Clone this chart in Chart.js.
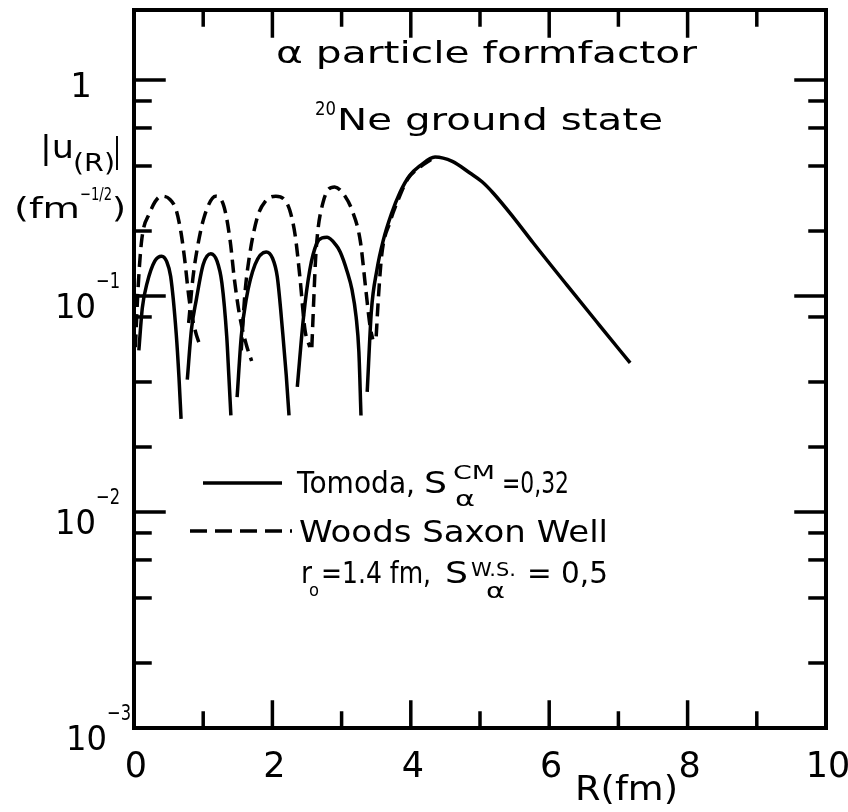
<!DOCTYPE html>
<html>
<head>
<meta charset="utf-8">
<script src="https://cdn.jsdelivr.net/npm/chart.js@4.4.1/dist/chart.umd.min.js"></script>
<style>
  html, body { margin: 0; padding: 0; background: #fff; }
</style>
</head>
<body>
<canvas id="formfactorChart" width="848" height="812"></canvas>
<script>
// Tomoda |u(R)| (solid), arches separated by null
const tomodaR = [
    0.07, 0.12, 0.19, 0.30, 0.40, 0.47, 0.53, 0.61, 0.65, 0.68, 0.72,
    0.77, 0.83, 0.90, 1.00, 1.11, 1.20, 1.27, 1.34, 1.37, 1.40, 1.45,
    1.49, 1.55, 1.62, 1.75, 1.91, 2.00, 2.07, 2.15, 2.20, 2.24, 2.30,
    2.36, 2.45, 2.54, 2.64, 2.72, 2.79, 2.92, 2.98, 3.08, 3.15, 3.21, 3.25, 3.28, 3.33,
    3.37, 3.43, 3.51, 3.60, 3.72, 3.84, 3.98, 4.13, 4.35, 4.60, 4.86, 5.03, 5.19, 5.48, 5.77, 6.26, 6.73, 7.17
];
const tomodaU = [
    0.056, 0.088, 0.115, 0.145, 0.153, 0.145, 0.123, 0.067, 0.042, 0.027, null,
    0.041, 0.070, 0.096, 0.140, 0.157, 0.145, 0.115, 0.065, 0.043, 0.028, null,
    0.034, 0.065, 0.096, 0.140, 0.160, 0.150, 0.123, 0.067, 0.043, 0.028, null,
    0.038, 0.080, 0.132, 0.175, 0.186, 0.187, 0.172, 0.160, 0.130, 0.107, 0.080, 0.055, 0.028, null,
    0.036, 0.085, 0.132, 0.180, 0.240, 0.300, 0.360, 0.400, 0.440, 0.420, 0.370, 0.338, 0.300, 0.232, 0.176, 0.112, 0.073, 0.049
];

// Woods Saxon well |u(R)| (dashed)
const woodsSaxonR = [
    0.02, 0.06, 0.11, 0.22, 0.40, 0.52, 0.61, 0.68, 0.73, 0.80, 0.88, 0.97, 0.98,
    0.79, 0.85, 0.91, 1.01, 1.18, 1.30, 1.39, 1.45, 1.53, 1.62, 1.70, 1.71,
    1.55, 1.60, 1.66, 1.78, 1.90, 2.05, 2.17, 2.25, 2.33, 2.40, 2.47, 2.54, 2.55,
    2.57, 2.60, 2.63, 2.73, 2.90, 3.05, 3.15, 3.27, 3.35, 3.41, 3.45, 3.46,
    3.50, 3.53, 3.58, 3.70, 3.82, 3.96, 4.13, 4.30
];
const woodsSaxonU = [
    0.058, 0.110, 0.180, 0.240, 0.290, 0.280, 0.250, 0.196, 0.150, 0.095, 0.070, 0.057, null,
    0.075, 0.120, 0.163, 0.230, 0.290, 0.260, 0.180, 0.120, 0.080, 0.060, 0.050, null,
    0.056, 0.100, 0.147, 0.230, 0.275, 0.290, 0.280, 0.250, 0.190, 0.120, 0.070, 0.058, null,
    0.058, 0.100, 0.160, 0.270, 0.320, 0.290, 0.250, 0.180, 0.107, 0.073, 0.063, null,
    0.065, 0.096, 0.155, 0.220, 0.280, 0.350, 0.395, 0.430
];

const xMajorTicks = [0, 2, 4, 6, 8, 10];
const xMinorTicks = [1, 3, 5, 7, 9];
const yMajorTicks = [1, 0.1, 0.01, 0.001];
const yMinorTicks = [0.8, 0.6, 0.4, 0.2, 0.08, 0.04, 0.02, 0.008, 0.006, 0.004, 0.002];
const yTickExponents = ['', '\u22121', '\u22122', '\u22123'];

const FONT = '"DejaVu Sans"';

function toPoints(rs, us) {
    return rs.map((r, i) => ({ x: r, y: us[i] }));
}

// text drawn at size, optionally squeezed/stretched to a given width
function txt(ctx, text, x, y, size, width, align) {
    ctx.save();
    ctx.font = size + 'px ' + FONT;
    ctx.textAlign = align || 'left';
    ctx.textBaseline = 'alphabetic';
    ctx.translate(x, y);
    if (width) ctx.scale(width / ctx.measureText(text).width, 1);
    ctx.fillText(text, 0, 0);
    ctx.restore();
}

function seg(ctx, x1, y1, x2, y2) {
    ctx.beginPath();
    ctx.moveTo(x1, y1);
    ctx.lineTo(x2, y2);
    ctx.stroke();
}

const framePlugin = {
    id: 'frame',
    afterDraw(chart) {
        const { ctx, chartArea: a, scales: { x, y } } = chart;
        ctx.save();
        ctx.strokeStyle = '#000';
        ctx.fillStyle = '#000';
        ctx.lineWidth = 4;
        ctx.lineCap = 'square';
        ctx.strokeRect(a.left, a.top, a.right - a.left, a.bottom - a.top);

        // inward ticks, all four sides
        ctx.lineWidth = 3.5;
        xMajorTicks.concat(xMinorTicks).forEach(v => {
            const px = x.getPixelForValue(v);
            const len = xMajorTicks.includes(v) ? 26 : 15;
            seg(ctx, px, a.bottom, px, a.bottom - len);
            seg(ctx, px, a.top, px, a.top + len);
        });
        yMajorTicks.concat(yMinorTicks).forEach(v => {
            const py = y.getPixelForValue(v);
            const len = yMajorTicks.includes(v) ? 30 : 16;
            seg(ctx, a.left, py, a.left + len, py);
            seg(ctx, a.right, py, a.right - len, py);
        });

        // x tick labels
        xMajorTicks.forEach(v => {
            txt(ctx, String(v), x.getPixelForValue(v) + 2, 777, 35, null, 'center');
        });
        txt(ctx, 'R(fm)', 575, 800, 34, 103);

        // y tick labels
        txt(ctx, '1', 92, 97, 34, null, 'right');
        yMajorTicks.slice(1).forEach((v, i) => {
            const py = y.getPixelForValue(v);
            const left = i === 2 ? 66 : 55;
            txt(ctx, '10', left, py + 22, 34, 41);
            txt(ctx, yTickExponents[i + 1], left + 41, py - 8, 22, 24);
        });

        // y axis title
        txt(ctx, '|u', 40, 158, 32, 34);
        txt(ctx, '(R)', 73, 171, 25, 42);
        txt(ctx, '|', 113, 162, 34, 8);
        txt(ctx, '(fm', 14, 218, 29, 66);
        txt(ctx, '\u22121/2', 80, 200, 18, 32);
        txt(ctx, ')', 112, 218, 29, 14);

        // title
        txt(ctx, '\u03b1 particle formfactor', 276, 63, 30, 421);
        txt(ctx, '20', 315, 115, 20, 21);
        txt(ctx, 'Ne ground state', 337, 130, 31, 326);

        // legend
        ctx.setLineDash([]);
        ctx.lineCap = 'butt';
        seg(ctx, 203, 483, 282, 483);
        txt(ctx, 'Tomoda,', 297, 493, 31, 118);
        txt(ctx, 'S', 424, 493, 31, 23);
        txt(ctx, 'CM', 453, 479, 20, 42);
        txt(ctx, '\u03b1', 455, 506, 22, 20);
        txt(ctx, '=0,32', 502, 493, 31, 67);

        ctx.setLineDash([17, 8]);
        seg(ctx, 190, 531, 292, 531);
        ctx.setLineDash([]);
        txt(ctx, 'Woods Saxon Well', 299, 542, 31, 309);

        txt(ctx, 'r', 301, 583, 31, 11);
        txt(ctx, 'o', 309, 596, 18, 10);
        txt(ctx, '=1.4 fm,', 321, 583, 31, 110);
        txt(ctx, 'S', 445, 583, 31, 23);
        txt(ctx, 'W.S.', 471, 576, 20, 45);
        txt(ctx, '\u03b1', 486, 598, 22, 19);
        txt(ctx, '= 0,5', 527, 583, 31, 81);
        ctx.restore();
    }
};

new Chart(document.getElementById('formfactorChart'), {
    type: 'line',
    data: {
        datasets: [{
            label: 'Tomoda',
            data: toPoints(tomodaR, tomodaU),
            borderColor: '#000',
            borderWidth: 3.5,
            pointRadius: 0,
            fill: false,
            spanGaps: false,
            cubicInterpolationMode: 'monotone'
        }, {
            label: 'Woods Saxon Well',
            data: toPoints(woodsSaxonR, woodsSaxonU),
            borderColor: '#000',
            borderWidth: 3.5,
            borderDash: [13, 7],
            pointRadius: 0,
            fill: false,
            spanGaps: false,
            cubicInterpolationMode: 'monotone'
        }]
    },
    options: {
        responsive: false,
        animation: false,
        devicePixelRatio: 1,
        layout: { padding: { left: 134, right: 22, top: 10, bottom: 84 } },
        plugins: {
            legend: { display: false },
            tooltip: { enabled: false }
        },
        scales: {
            x: { type: 'linear', min: 0, max: 10, display: false },
            y: { type: 'logarithmic', min: 0.001, max: 2.11, display: false }
        }
    },
    plugins: [framePlugin]
});
</script>
</body>
</html>
